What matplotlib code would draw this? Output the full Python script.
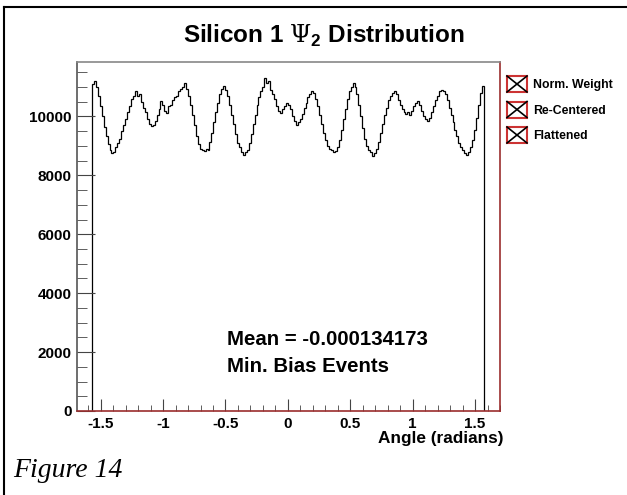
import numpy as np
import matplotlib
matplotlib.use("Agg")
from matplotlib import pyplot as plt
from matplotlib.ticker import MultipleLocator, FixedLocator, FixedFormatter
from matplotlib.patches import Rectangle
from matplotlib.lines import Line2D

plt.rcParams['font.family'] = ['Liberation Sans', 'DejaVu Sans']
plt.rcParams['mathtext.fontset'] = 'custom'
plt.rcParams['mathtext.rm'] = 'DejaVu Serif'
plt.rcParams['mathtext.bf'] = 'Liberation Sans:bold'

# histogram counts, 200 bins from -pi/2 to pi/2
counts = [11100, 11200, 11000, 10700, 10350, 10000, 9650, 9350, 9050, 8850,
          8760, 8800, 8950, 9100, 9250, 9500, 9700, 9900, 10150, 10350,
          10600, 10700, 10860, 10700, 10750, 10500, 10300, 10150, 9900, 9750,
          9670, 9700, 9850, 10050, 10250, 10520, 10400, 10180, 10120, 10350,
          10400, 10550, 10650, 10700, 10850, 10950, 11000, 11120, 10950, 10700,
          10400, 10050, 9700, 9350, 9050, 8900, 8850, 8820, 8900, 8850,
          9150, 9450, 9800, 10150, 10450, 10750, 10950, 11050, 10900, 10700,
          10400, 10050, 9750, 9400, 9100, 8950, 8800, 8700, 8800, 8850,
          9100, 9400, 9750, 10050, 10400, 10650, 10850, 11000, 11300, 11150,
          11200, 10900, 10750, 10600, 10350, 10200, 10120, 10250, 10350, 10460,
          10400, 10250, 10000, 9850, 9720, 9800, 9900, 10100, 10300, 10450,
          10650, 10750, 10860, 10800, 10600, 10350, 10050, 9750, 9450, 9200,
          9000, 8900, 8850, 8800, 8820, 8950, 9200, 9550, 9900, 10250,
          10600, 10850, 11000, 11140, 11000, 10750, 10400, 10000, 9600, 9250,
          9000, 8850, 8800, 8650, 8750, 8900, 9150, 9450, 9750, 10050,
          10300, 10550, 10700, 10800, 10860, 10750, 10550, 10400, 10250, 10150,
          10100, 10150, 10060, 10200, 10350, 10450, 10520, 10400, 10200, 10000,
          9900, 9840, 9950, 10150, 10350, 10550, 10700, 10850, 10910, 10850,
          10750, 10550, 10300, 10050, 9800, 9550, 9350, 9100, 8950, 8850,
          8750, 8700, 8800, 8950, 9200, 9550, 9950, 10400, 10800, 11030]
edges = np.linspace(-np.pi / 2, np.pi / 2, len(counts) + 1)

x_ticks = [-1.5, -1, -0.5, 0, 0.5, 1, 1.5]
x_tick_labels = ['-1.5', '-1', '-0.5', '0', '0.5', '1', '1.5']
y_ticks = [0, 2000, 4000, 6000, 8000, 10000]
y_tick_labels = ['0', '2000', '4000', '6000', '8000', '10000']
legend_labels = ['Norm. Weight', 'Re-Centered', 'Flattened']

W, H = 627, 495
fig = plt.figure(figsize=(W / 100, H / 100), dpi=100)
ax = fig.add_axes([77 / W, 1 - 411 / H, 423 / W, 349 / H])

ax.stairs(counts, edges, baseline=0, color='black', lw=0.9)

ax.set_xlim(-1.69, 1.70)
ax.set_ylim(0, 11850)
ax.xaxis.set_major_locator(FixedLocator(x_ticks))
ax.xaxis.set_major_formatter(FixedFormatter(x_tick_labels))
ax.xaxis.set_minor_locator(MultipleLocator(0.1))
ax.yaxis.set_major_locator(FixedLocator(y_ticks))
ax.yaxis.set_major_formatter(FixedFormatter(y_tick_labels))
ax.yaxis.set_minor_locator(MultipleLocator(500))

ax.tick_params(axis='both', which='both', direction='in', colors='#444444')
ax.tick_params(axis='x', which='major', length=9, pad=4)
ax.tick_params(axis='x', which='minor', length=4)
ax.tick_params(axis='y', which='major', length=13, pad=4)
ax.tick_params(axis='y', which='minor', length=7)
for lab in ax.get_xticklabels() + ax.get_yticklabels():
    lab.set_fontweight('bold')
    lab.set_fontsize(11)
    lab.set_color('black')

ax.spines['left'].set_color('#555555')
ax.spines['top'].set_color('#888888')
ax.spines['right'].set_color('#9b2d2d')
ax.spines['bottom'].set_color('#9b2d2d')
for s in ax.spines.values():
    s.set_linewidth(1.2)

# titles and notes
fig.text(324 / W, 1 - 43 / H, r'Silicon 1 $\Psi_{\mathbf{2}}$ Distribution',
         ha='center', va='baseline', fontsize=17.5, fontweight='bold')
fig.text(503 / W, 1 - 443 / H, 'Angle (radians)', ha='right', va='baseline',
         fontsize=12.4, fontweight='bold')
fig.text(227 / W, 1 - 345 / H, 'Mean = -0.000134173', ha='left', va='baseline',
         fontsize=14.7, fontweight='bold')
fig.text(227 / W, 1 - 372 / H, 'Min. Bias Events', ha='left', va='baseline',
         fontsize=14.7, fontweight='bold')
fig.text(13 / W, 1 - 477 / H, 'Figure 14', ha='left', va='baseline',
         fontsize=20, fontstyle='italic', family='Liberation Serif')

# legend boxes
for i, lab in enumerate(legend_labels):
    yc = 84 + i * 25.5
    x0, x1 = 507, 527
    y0, y1 = yc - 8, yc + 8
    fig.patches.append(Rectangle((x0 / W, 1 - y1 / H), (x1 - x0) / W, (y1 - y0) / H,
                                 transform=fig.transFigure, fill=False,
                                 edgecolor='#cc3333', lw=1.5))
    fig.lines.append(Line2D([x0 / W, x1 / W], [1 - y0 / H, 1 - y1 / H],
                            transform=fig.transFigure, color='black', lw=1.2))
    fig.lines.append(Line2D([x0 / W, x1 / W], [1 - y1 / H, 1 - y0 / H],
                            transform=fig.transFigure, color='black', lw=1.2))
    fig.text(533 / W, 1 - (yc + 4) / H, lab, ha='left', va='baseline',
             fontsize=8.8, fontweight='bold')

# outer frame (left and top edges visible)
fig.lines.append(Line2D([4 / W, 4 / W], [0, 1 - 7 / H], transform=fig.transFigure,
                        color='black', lw=1.5))
fig.lines.append(Line2D([4 / W, 1], [1 - 7 / H, 1 - 7 / H], transform=fig.transFigure,
                        color='black', lw=1.5))

fig.savefig('out.png', dpi=100)
